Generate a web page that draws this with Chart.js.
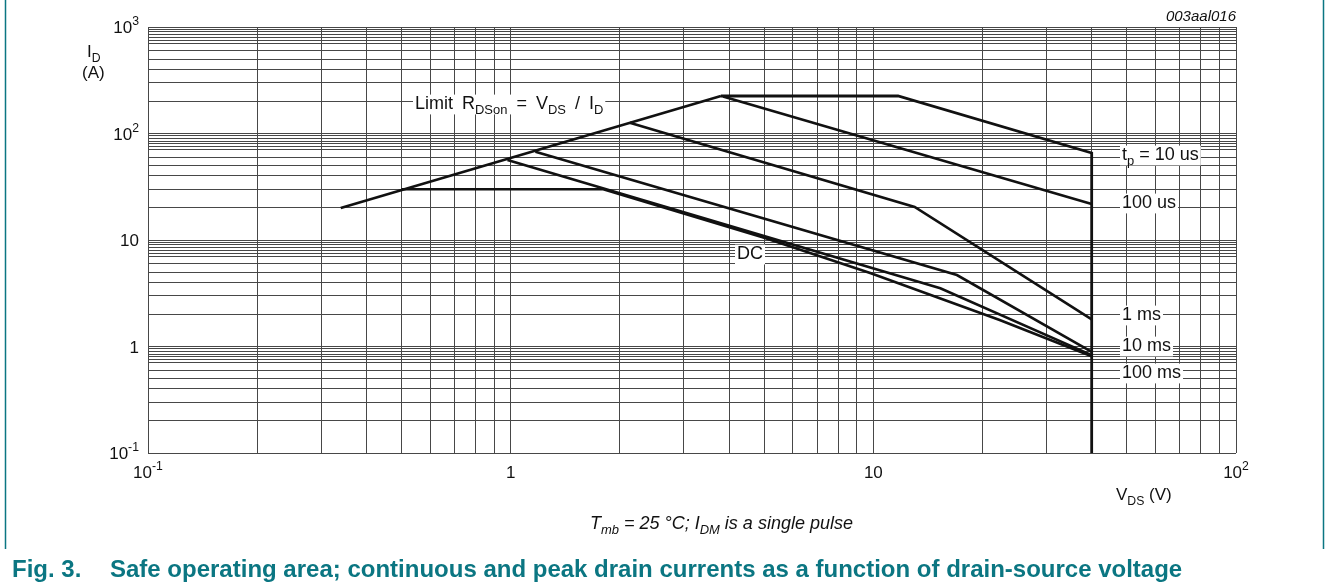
<!DOCTYPE html>
<html>
<head>
<meta charset="utf-8">
<script src="https://cdn.jsdelivr.net/npm/chart.js@4.4.0/dist/chart.umd.min.js"></script>
<style>
  html, body { margin: 0; padding: 0; background: #fff; }
  #wrap { width: 1328px; height: 587px; }
</style>
</head>
<body>
<div id="wrap"><canvas id="soa" width="1328" height="587"></canvas></div>
<script>
// --- data (VDS in V, ID in A) ---
const rdsonV = [0.34, 3.8];
const rdsonI = [20, 225];

const tp10usV = [3.8, 11.7, 40, 40];
const tp10usI = [225, 225, 65.6, 0.1];

const tp100usV = [3.85, 40];
const tp100usI = [222, 21.8];

const tp1msV = [2.13, 13.0, 40];
const tp1msI = [126, 20.4, 1.8];

const tp10msV = [1.17, 17.0, 40];
const tp10msI = [67.5, 4.69, 0.89];

const tp100msV = [0.98, 15.3, 40];
const tp100msI = [56.4, 3.52, 0.83];

const dcV = [0.5, 1.8, 5, 9.8, 22.3, 40];
const dcI = [30, 30, 10.5, 4.9, 1.77, 0.81];

// grid steps inside each decade
const xGridSteps = [1, 2, 3, 4, 5, 6, 7, 8, 9];
const yGridSteps = [1, 2, 3, 4, 5, 6, 7, 7.5, 8, 8.5, 9, 9.5];
const xDecades = [-1, 0, 1, 2];
const yDecades = [-1, 0, 1, 2, 3];

const FONT = '"Liberation Sans", Arial, Helvetica, sans-serif';
const TEAL = '#0b7682';

function pts(xs, ys) {
  return xs.map((x, i) => ({ x: x, y: ys[i] }));
}

function gridValues(decades, steps) {
  const out = [];
  for (let i = 0; i < decades.length - 1; i++) {
    steps.forEach(s => out.push(s * Math.pow(10, decades[i])));
  }
  out.push(Math.pow(10, decades[decades.length - 1]));
  return out;
}

function decadeLabel(d) {
  if (d === 0) return [['1', '']];
  if (d === 1) return [['10', '']];
  return [['10', ''], [String(d).replace('-', '\u2011'), 'sup']];
}

// draws text made of normal / sub / sup parts, returns width
function rich(ctx, parts, x, y, size, style, measureOnly) {
  let cx = x;
  parts.forEach(p => {
    const small = p[1] === 'sub' || p[1] === 'sup';
    const fs = small ? size * 0.72 : size;
    ctx.font = style + ' ' + fs + 'px ' + FONT;
    let dy = 0;
    if (p[1] === 'sub') dy = size * 0.28;
    if (p[1] === 'sup') dy = -size * 0.45;
    if (!measureOnly) ctx.fillText(p[0], cx, y + dy);
    cx += ctx.measureText(p[0]).width;
  });
  return cx - x;
}

function boxedRich(ctx, parts, x, y, size) {
  const w = rich(ctx, parts, x, y, size, '', true);
  ctx.fillStyle = '#fff';
  ctx.fillRect(x - 2, y - size * 0.8, w + 4, size * 1.1);
  ctx.fillStyle = '#111';
  rich(ctx, parts, x, y, size, '');
}

const decorPlugin = {
  id: 'decor',
  afterDatasetsDraw(chart) {
    const ctx = chart.ctx;
    const xs = chart.scales.x, ys = chart.scales.y;
    ctx.save();
    ctx.textBaseline = 'alphabetic';
    ctx.fillStyle = '#111';

    // y tick labels
    yDecades.forEach(d => {
      const py = ys.getPixelForValue(Math.pow(10, d));
      const parts = decadeLabel(d);
      const w = rich(ctx, parts, 0, 0, 17, '', true);
      rich(ctx, parts, 139 - w, py + 6, 17, '');
    });
    // x tick labels
    xDecades.forEach(d => {
      const px = xs.getPixelForValue(Math.pow(10, d));
      const parts = decadeLabel(d);
      const w = rich(ctx, parts, 0, 0, 17, '', true);
      rich(ctx, parts, px - w / 2, 478, 17, '');
    });

    // axis titles
    rich(ctx, [['I', ''], ['D', 'sub']], 87, 57, 17, '');
    rich(ctx, [['(A)', '']], 82, 78, 17, '');
    rich(ctx, [['V', ''], ['DS', 'sub'], [' (V)', '']], 1116, 500, 17, '');

    // figure id
    ctx.font = 'italic 15px ' + FONT;
    ctx.textAlign = 'right';
    ctx.fillText('003aal016', 1236, 21);
    ctx.textAlign = 'left';

    // curve labels
    boxedRich(ctx, [['Limit\u2002R', ''], ['DSon', 'sub'], ['\u2002=\u2002V', ''], ['DS', 'sub'], ['\u2002/\u2002I', ''], ['D', 'sub']], 415, 109, 18);
    boxedRich(ctx, [['t', ''], ['p', 'sub'], [' = 10 us', '']], 1122, 160, 18);
    boxedRich(ctx, [['100 us', '']], 1122, 208, 18);
    boxedRich(ctx, [['1 ms', '']], 1122, 320, 18);
    boxedRich(ctx, [['10 ms', '']], 1122, 351, 18);
    boxedRich(ctx, [['100 ms', '']], 1122, 378, 18);
    boxedRich(ctx, [['DC', '']], 737, 259, 18);

    // conditions line
    ctx.fillStyle = '#111';
    rich(ctx, [['T', ''], ['mb', 'sub'], [' = 25 \u00b0C; I', ''], ['DM', 'sub'], [' is a single pulse', '']], 590, 529, 18, 'italic');

    // caption
    ctx.fillStyle = TEAL;
    ctx.font = 'bold 24px ' + FONT;
    ctx.fillText('Fig. 3.', 12, 577);
    ctx.fillText('Safe operating area; continuous and peak drain currents as a function of drain-source voltage', 110, 577);

    // frame lines left / right
    ctx.strokeStyle = TEAL;
    ctx.lineWidth = 1.5;
    ctx.beginPath();
    ctx.moveTo(5.5, 0); ctx.lineTo(5.5, 549);
    ctx.moveTo(1323.5, 0); ctx.lineTo(1323.5, 549);
    ctx.stroke();
    ctx.restore();
  }
};

const lineStyle = {
  showLine: true,
  borderColor: '#111',
  borderWidth: 2.6,
  pointRadius: 0,
  tension: 0,
  fill: false
};

new Chart(document.getElementById('soa'), {
  type: 'scatter',
  data: {
    datasets: [
      { label: 'RDSon', data: pts(rdsonV, rdsonI), ...lineStyle },
      { label: 'tp = 10 us', data: pts(tp10usV, tp10usI), ...lineStyle, borderWidth: 2.8 },
      { label: '100 us', data: pts(tp100usV, tp100usI), ...lineStyle },
      { label: '1 ms', data: pts(tp1msV, tp1msI), ...lineStyle },
      { label: '10 ms', data: pts(tp10msV, tp10msI), ...lineStyle },
      { label: '100 ms', data: pts(tp100msV, tp100msI), ...lineStyle },
      { label: 'DC', data: pts(dcV, dcI), ...lineStyle }
    ]
  },
  options: {
    responsive: false,
    animation: false,
    devicePixelRatio: 1,
    layout: { padding: { left: 148, right: 92, top: 27, bottom: 134 } },
    plugins: {
      legend: { display: false },
      tooltip: { enabled: false }
    },
    scales: {
      x: {
        type: 'logarithmic',
        min: 0.1,
        max: 100,
        afterBuildTicks: (scale) => {
          scale.ticks = gridValues(xDecades, xGridSteps).map(v => ({ value: v }));
        },
        ticks: { display: false },
        grid: { color: '#474747', lineWidth: 1, drawTicks: false },
        border: { display: false }
      },
      y: {
        type: 'logarithmic',
        min: 0.1,
        max: 1000,
        afterBuildTicks: (scale) => {
          scale.ticks = gridValues(yDecades, yGridSteps).map(v => ({ value: v }));
        },
        ticks: { display: false },
        grid: { color: '#474747', lineWidth: 1, drawTicks: false },
        border: { display: false }
      }
    }
  },
  plugins: [decorPlugin]
});
</script>
</body>
</html>
